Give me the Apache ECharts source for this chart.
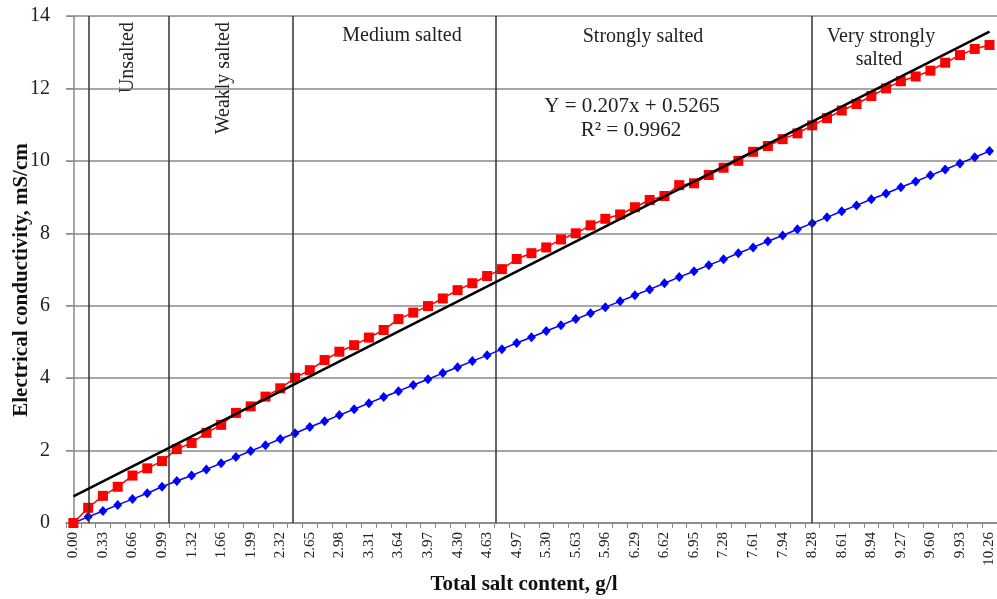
<!DOCTYPE html>
<html>
<head>
<meta charset="utf-8">
<script src="https://cdn.jsdelivr.net/npm/echarts@6/dist/echarts.min.js"></script>
<style>html,body{margin:0;padding:0;background:#fff;}#c{width:997px;height:599px;}</style>
</head>
<body>
<div id="c"></div>
<script>
// Category labels (total salt content, g/l)
var categories = ['0.00','0.17','0.33','0.50','0.66','0.83','0.99','1.16','1.32','1.49','1.66','1.82','1.99','2.15','2.32','2.48','2.65','2.81','2.98','3.14','3.31','3.48','3.64','3.81','3.97','4.14','4.30','4.47','4.63','4.80','4.97','5.13','5.30','5.46','5.63','5.79','5.96','6.12','6.29','6.45','6.62','6.79','6.95','7.12','7.28','7.45','7.61','7.78','7.94','8.11','8.28','8.44','8.61','8.77','8.94','9.10','9.27','9.43','9.60','9.76','9.93','10.10','10.26'];
// Red series (squares)
var redValues = [0.00,0.42,0.75,1.00,1.31,1.51,1.71,2.04,2.21,2.49,2.71,3.04,3.22,3.49,3.72,4.01,4.22,4.50,4.73,4.91,5.12,5.33,5.63,5.81,5.99,6.20,6.43,6.62,6.82,7.01,7.29,7.45,7.61,7.83,8.00,8.22,8.40,8.52,8.72,8.92,9.03,9.33,9.38,9.61,9.81,10.00,10.25,10.41,10.60,10.76,10.98,11.18,11.39,11.57,11.79,12.00,12.20,12.33,12.49,12.71,12.92,13.09,13.20];
// Blue series (diamonds)
var blueValues = [0.00,0.17,0.33,0.50,0.66,0.82,1.00,1.16,1.31,1.48,1.65,1.82,1.99,2.15,2.32,2.48,2.65,2.81,2.98,3.14,3.31,3.48,3.64,3.81,3.97,4.14,4.30,4.47,4.63,4.80,4.97,5.13,5.30,5.46,5.63,5.79,5.96,6.12,6.29,6.45,6.62,6.79,6.95,7.12,7.28,7.45,7.61,7.78,7.94,8.11,8.28,8.44,8.61,8.77,8.94,9.10,9.27,9.43,9.60,9.76,9.93,10.10,10.27];
// Linear trendline of red series (x = point number 1..63)
var trendSlope = 0.207, trendIntercept = 0.5265;
// Salinity class boundaries (in category-index units)
var boundaries = [1.07, 6.43, 14.84, 28.59, 50.0];
// Y-axis ticks
var yTicks = {min: 0, max: 14, interval: 2};

var n = categories.length;
var trendData = [[0, trendSlope * 1 + trendIntercept], [n - 1, trendSlope * n + trendIntercept]];

var FONT = 'Liberation Serif';
var chart = echarts.init(document.getElementById('c'));
chart.setOption({
  animation: false,
  backgroundColor: '#fff',
  grid: {left: 66, top: 16, width: 933, height: 507, containLabel: false},
  xAxis: [{
    type: 'category',
    data: categories,
    boundaryGap: true,
    axisLine: {lineStyle: {color: '#888', width: 1.5}},
    axisTick: {show: true, interval: 0, length: 5, lineStyle: {color: '#888', width: 1}},
    axisLabel: {interval: 1, rotate: 90, margin: 9, fontFamily: FONT, fontSize: 15, color: '#222'},
    splitLine: {show: false}
  }, {
    type: 'value', min: -0.5, max: n - 0.5, show: false, gridIndex: 0
  }],
  yAxis: {
    type: 'value', min: yTicks.min, max: yTicks.max, interval: yTicks.interval,
    axisLine: {show: true, lineStyle: {color: '#888', width: 1.5}},
    axisTick: {show: true, length: 7, lineStyle: {color: '#888', width: 1}},
    axisLabel: {margin: 16, fontFamily: FONT, fontSize: 20, color: '#222'},
    splitLine: {lineStyle: {color: '#8a8a8a', width: 1.5}}
  },
  series: [{
    name: 'boundaries', type: 'line', xAxisIndex: 1, data: [], silent: true,
    markLine: {
      silent: true, symbol: 'none', label: {show: false},
      lineStyle: {color: '#333', width: 1.5, type: 'solid'},
      data: boundaries.map(function (b) { return {xAxis: b}; })
    }
  }, {
    name: 'blue', type: 'line', data: blueValues, xAxisIndex: 0,
    symbol: 'diamond', symbolSize: [9, 10], showAllSymbol: true,
    itemStyle: {color: '#0000ff'}, lineStyle: {color: '#0000ff', width: 1.5}, z: 3
  }, {
    name: 'red', type: 'line', data: redValues, xAxisIndex: 0,
    symbol: 'rect', symbolSize: 10, showAllSymbol: true,
    itemStyle: {color: '#ff0000'}, lineStyle: {color: '#ff0000', width: 1.5}, z: 4
  }, {
    name: 'trend', type: 'line', data: trendData, xAxisIndex: 1,
    symbol: 'none', lineStyle: {color: '#000', width: 2.5}, z: 5
  }],
  graphic: [
    {type: 'text', x: 128, y: 22, rotation: Math.PI / 2, style: {text: 'Unsalted', font: '20px "Liberation Serif"', fill: '#222', textAlign: 'right', textVerticalAlign: 'middle'}},
    {type: 'text', x: 224, y: 22, rotation: Math.PI / 2, style: {text: 'Weakly salted', font: '20px "Liberation Serif"', fill: '#222', textAlign: 'right', textVerticalAlign: 'middle'}},
    {type: 'text', x: 402, y: 36, style: {text: 'Medium salted', font: '20px "Liberation Serif"', fill: '#222', textAlign: 'center', textVerticalAlign: 'middle'}},
    {type: 'text', x: 643, y: 37, style: {text: 'Strongly salted', font: '20px "Liberation Serif"', fill: '#222', textAlign: 'center', textVerticalAlign: 'middle'}},
    {type: 'text', x: 881, y: 37, style: {text: 'Very strongly', font: '20px "Liberation Serif"', fill: '#222', textAlign: 'center', textVerticalAlign: 'middle'}},
    {type: 'text', x: 879, y: 60, style: {text: 'salted', font: '20px "Liberation Serif"', fill: '#222', textAlign: 'center', textVerticalAlign: 'middle'}},
    {type: 'text', x: 632, y: 106, style: {text: 'Y = 0.207x + 0.5265', font: '21px "Liberation Serif"', fill: '#222', textAlign: 'center', textVerticalAlign: 'middle'}},
    {type: 'text', x: 631, y: 130, style: {text: 'R\u00b2 = 0.9962', font: '21px "Liberation Serif"', fill: '#222', textAlign: 'center', textVerticalAlign: 'middle'}},
    {type: 'text', x: 524, y: 585, style: {text: 'Total salt content, g/l', font: 'bold 21px "Liberation Serif"', fill: '#111', textAlign: 'center', textVerticalAlign: 'middle'}},
    {type: 'text', x: 22, y: 280, rotation: Math.PI / 2, style: {text: 'Electrical conductivity, mS/cm', font: 'bold 21px "Liberation Serif"', fill: '#111', textAlign: 'center', textVerticalAlign: 'middle'}}
  ]
});
</script>
</body>
</html>
